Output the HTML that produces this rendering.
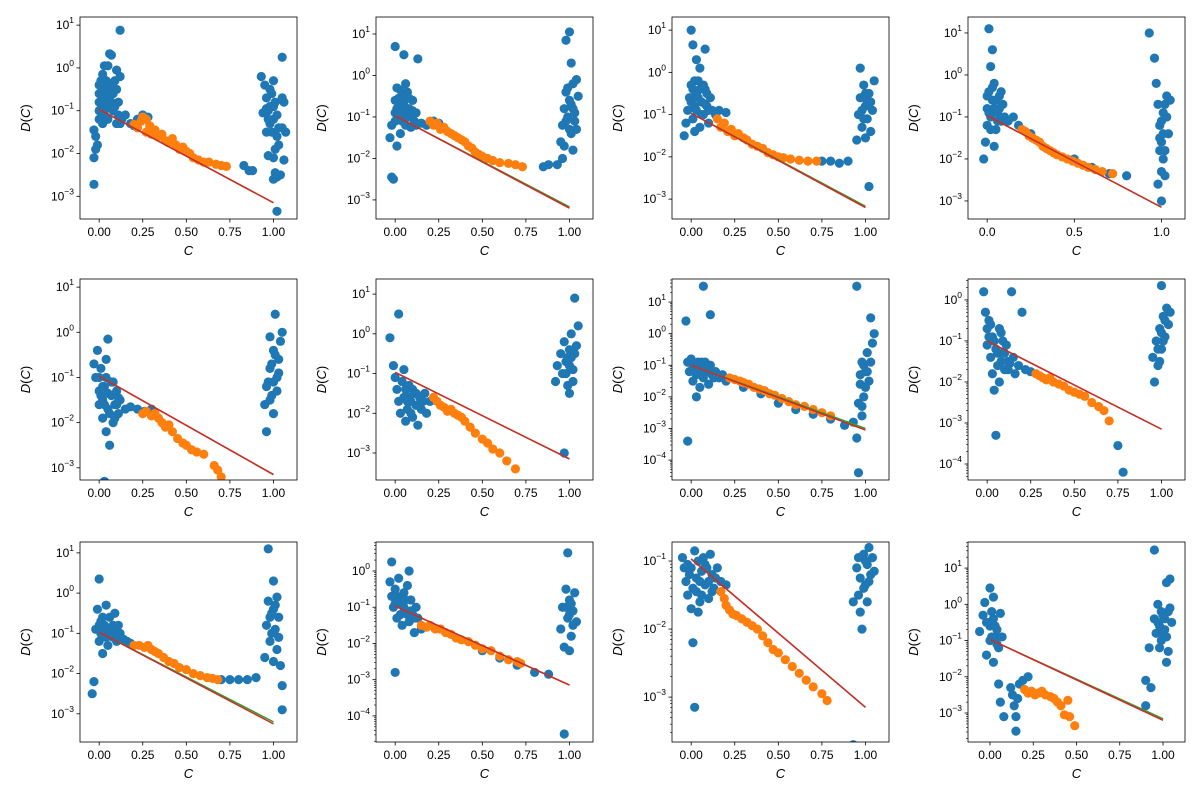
<!DOCTYPE html>
<html><head><meta charset="utf-8"><style>
html,body{margin:0;padding:0;background:#fff;}
svg{display:block;font-family:"Liberation Sans","DejaVu Sans",sans-serif;}
</style></head>
<body>
<svg id="fig" width="1200" height="800" viewBox="0 0 1200 800"></svg>
<script>
// ---- data (c, log10 D) per panel ----
const blue1=[[-0.03,-2.72],[-0.03,-2.1],[-0.02,-1.9],[-0.02,-1.6],[-0.01,-1.8],[-0.03,-1.45],[0,-1.2],[0,-0.8],[0.01,-0.6],[0,-0.4],[0.02,-0.15],[0.03,0.05],[0.05,0.05],[0.06,0.33],[0.07,0.3],[0.04,-0.5],[0.05,-0.7],[0.06,-0.9],[0.03,-1.1],[0.02,-1.3],[0.08,-0.6],[0.09,-0.3],[0.1,-0.05],[0.12,-0.2],[0.1,-0.5],[0.08,-1.0],[0.1,-1.3],[0.13,-1.2],[0.12,0.88],[0.01,-0.95],[0.04,-0.3],[0.07,-0.45],[0.11,-0.8],[0.15,-1.1],[0.18,-1.3],[0.2,-1.35],[0.22,-1.2],[0.25,-1.1],[0.28,-1.15],[0.0,-0.6],[0.01,-0.3],[0.02,-0.7],[0.03,-0.85],[0.04,-0.95],[0.05,-1.2],[0.06,-0.6],[0.07,-0.8],[0.08,-0.35],[0.09,-0.9],[0.11,-1.1],[0.12,-1.3],[0.03,-0.5],[0.05,-0.35],[0.0,-1.0],[0.93,-0.2],[0.95,-0.4],[0.96,-0.7],[0.97,-1.0],[0.98,-1.3],[0.96,-1.5],[0.99,-0.6],[1.0,-0.3],[1.01,-0.8],[1.0,-1.2],[1.02,-1.6],[1.03,-1.8],[0.97,-2.05],[1.0,-2.1],[1.01,-2.45],[1.02,-2.55],[1.0,-2.6],[1.04,-2.5],[1.06,-2.15],[1.05,-1.4],[1.06,-0.8],[1.07,-1.5],[1.05,-0.7],[1.05,0.25],[1.02,-3.35],[0.98,-0.5],[0.94,-1.05],[0.97,-1.2],[0.99,-1.5],[1.0,-0.9],[1.02,-1.1],[1.03,-1.4],[0.98,-0.9],[1.01,-1.9],[0.96,-0.95],[0.83,-2.28],[0.86,-2.4],[0.88,-2.4]];
const orange1=[[0.2,-1.32],[0.22,-1.4],[0.24,-1.25],[0.25,-1.15],[0.27,-1.2],[0.27,-1.5],[0.29,-1.35],[0.3,-1.55],[0.32,-1.45],[0.34,-1.6],[0.36,-1.55],[0.38,-1.7],[0.4,-1.75],[0.42,-1.65],[0.44,-1.8],[0.46,-1.9],[0.48,-1.85],[0.5,-1.95],[0.52,-2.0],[0.54,-2.1],[0.57,-2.15],[0.6,-2.2],[0.63,-2.2],[0.67,-2.25],[0.7,-2.28],[0.73,-2.3]];
const blue2=[[-0.02,-2.45],[-0.01,-2.5],[-0.03,-1.5],[-0.02,-1.2],[0,-0.9],[0,-0.6],[0.01,-0.3],[0,0.7],[0.05,0.5],[0.13,0.4],[0.02,-1.0],[0.03,-0.7],[0.04,-0.5],[0.05,-0.9],[0.06,-1.2],[0.07,-0.4],[0.08,-0.8],[0.09,-1.0],[0.1,-0.6],[0.11,-1.1],[0.12,-0.9],[0.03,-1.4],[0.06,-0.2],[0.01,-1.7],[0.12,-1.2],[0.15,-1.15],[0.18,-1.2],[0.22,-1.1],[0.25,-1.15],[0.0,-1.1],[0.01,-0.8],[0.02,-0.55],[0.04,-1.1],[0.05,-0.7],[0.07,-1.0],[0.08,-0.55],[0.09,-1.25],[0.1,-0.85],[0.03,-0.35],[0.85,-2.2],[0.88,-2.15],[0.93,-2.15],[0.96,-2.0],[0.95,-1.6],[0.96,-1.2],[0.97,-0.8],[0.98,-0.4],[0.99,-1.0],[1.0,-0.6],[1.01,-1.4],[1.02,-0.2],[1.03,-0.9],[1.04,-1.3],[1.05,-0.5],[1.0,1.05],[0.98,0.85],[1.01,0.3],[0.97,-1.7],[1.02,-1.8],[1.04,-0.1],[0.98,-1.1],[1.0,-1.3],[1.01,-0.7],[1.03,-1.1],[0.99,-0.3],[1.02,-0.8]];
const orange2=[[0.2,-1.1],[0.22,-1.2],[0.24,-1.15],[0.26,-1.3],[0.28,-1.25],[0.3,-1.35],[0.32,-1.4],[0.34,-1.45],[0.36,-1.5],[0.38,-1.55],[0.4,-1.6],[0.42,-1.7],[0.44,-1.75],[0.46,-1.85],[0.48,-1.9],[0.5,-1.95],[0.53,-2.0],[0.56,-2.05],[0.6,-2.1],[0.65,-2.12],[0.69,-2.15],[0.73,-2.2]];
const blue3=[[-0.04,-1.5],[-0.03,-1.2],[-0.02,-0.9],[-0.01,-0.6],[0,-0.3],[0,1.0],[0.01,0.65],[0.08,0.55],[0.01,-1.1],[0.02,-0.8],[0.03,-0.5],[0.04,-0.2],[0.05,0.1],[0.06,-0.7],[0.07,-1.0],[0.08,-0.4],[0.09,-0.8],[0.1,-1.2],[0.11,-0.6],[0.12,-0.9],[0.02,-1.4],[0.05,-1.3],[0.03,0.3],[0.14,-1.0],[0.16,-0.9],[0.2,-0.95],[0.0,-0.7],[0.01,-0.4],[0.02,-0.2],[0.03,-0.9],[0.04,-0.6],[0.05,-0.4],[0.06,-1.0],[0.07,-0.3],[0.08,-0.75],[0.09,-0.5],[0.1,-0.9],[0.75,-2.1],[0.8,-2.1],[0.85,-2.15],[0.9,-2.1],[0.95,-1.6],[0.96,-1.0],[0.97,-0.6],[0.98,-1.3],[0.99,-0.3],[1.0,-0.8],[1.01,-1.1],[1.02,-0.5],[1.03,-1.4],[1.04,-0.9],[1.05,-0.2],[0.97,0.1],[1.02,-2.7],[1.0,-1.55],[0.98,-0.9],[1.0,-0.5],[1.01,-0.7],[0.99,-1.1],[1.03,-0.7]];
const orange3=[[0.15,-1.1],[0.17,-1.3],[0.19,-1.2],[0.21,-1.4],[0.23,-1.35],[0.25,-1.5],[0.27,-1.45],[0.3,-1.55],[0.32,-1.6],[0.35,-1.7],[0.38,-1.75],[0.41,-1.8],[0.44,-1.9],[0.47,-1.95],[0.5,-2.0],[0.53,-2.02],[0.57,-2.05],[0.62,-2.08],[0.67,-2.1],[0.72,-2.1]];
const blue4=[[-0.02,-2.0],[-0.01,-1.6],[0,-1.2],[0,-0.8],[0.01,-0.4],[0.01,1.1],[0.03,0.6],[0.02,0.2],[0.02,-1.0],[0.03,-0.6],[0.04,-0.2],[0.05,-1.3],[0.06,-0.9],[0.07,-0.5],[0.08,-1.1],[0.09,-0.7],[0.1,-1.0],[0.04,-1.7],[0.12,-1.1],[0.15,-1.0],[0.18,-1.2],[0.25,-1.4],[0.0,-0.5],[0.01,-0.9],[0.02,-1.3],[0.03,-0.3],[0.04,-0.8],[0.05,-0.6],[0.06,-1.1],[0.07,-0.8],[0.08,-0.4],[0.5,-2.0],[0.6,-2.2],[0.7,-2.35],[0.8,-2.4],[0.93,1.0],[0.96,0.4],[0.97,-0.2],[0.98,-0.7],[0.99,-1.2],[1.0,-1.6],[1.01,-2.0],[1.02,-2.4],[1.0,-3.0],[1.03,-1.0],[1.04,-1.4],[1.03,-0.5],[1.05,-0.6],[0.98,-2.6],[1.02,-1.8],[1.01,-0.9],[0.99,-1.5],[1.0,-1.1],[1.01,-1.4],[1.02,-0.7],[1.0,-2.3],[0.99,-1.8]];
const orange4=[[0.2,-1.3],[0.22,-1.35],[0.24,-1.45],[0.26,-1.5],[0.28,-1.55],[0.3,-1.6],[0.32,-1.7],[0.34,-1.75],[0.36,-1.8],[0.38,-1.85],[0.4,-1.9],[0.43,-1.95],[0.46,-2.0],[0.49,-2.05],[0.52,-2.1],[0.55,-2.15],[0.58,-2.2],[0.62,-2.25],[0.66,-2.3],[0.72,-2.35]];
const blue5=[[-0.03,-0.7],[-0.02,-1.0],[-0.01,-0.4],[0,-1.3],[0,-1.6],[0.01,-0.8],[0.02,-1.9],[0.02,-1.5],[0.03,-3.3],[0.03,-1.2],[0.04,-2.2],[0.05,-0.15],[0.05,-1.7],[0.06,-2.5],[0.07,-1.4],[0.08,-1.1],[0.08,-2.0],[0.09,-1.6],[0.1,-1.3],[0.11,-1.8],[0.12,-1.5],[0.04,-0.6],[0.15,-1.7],[0.18,-1.65],[0.22,-1.7],[0.26,-1.75],[0.3,-1.7],[0.0,-1.0],[0.01,-1.4],[0.03,-1.6],[0.04,-1.0],[0.05,-1.35],[0.06,-1.8],[0.07,-1.1],[0.09,-1.9],[0.1,-1.6],[0.11,-1.45],[0.02,-1.2],[0.95,-1.6],[0.96,-2.2],[0.96,-1.2],[0.97,1.4],[0.98,-0.8],[0.99,-1.4],[1.0,-0.4],[1.01,0.4],[1.02,-1.0],[1.03,-0.6],[1.04,-0.2],[1.05,0.0],[1.0,-1.8],[1.02,-1.3],[0.98,-0.1],[0.97,-1.1],[0.99,-0.7],[1.0,-1.1],[1.01,-0.5],[1.03,-0.9],[0.98,-1.5]];
const orange5=[[0.25,-1.8],[0.27,-1.75],[0.3,-1.85],[0.32,-1.8],[0.34,-1.9],[0.36,-2.0],[0.38,-2.1],[0.4,-2.05],[0.42,-2.2],[0.45,-2.35],[0.48,-2.45],[0.5,-2.5],[0.53,-2.6],[0.56,-2.65],[0.6,-2.7],[0.66,-2.95],[0.68,-3.05],[0.7,-3.2]];
const blue6=[[-0.03,-0.1],[0.02,0.5],[-0.01,-0.8],[0,-1.1],[0.01,-1.4],[0.02,-1.7],[0.03,-2.0],[0.04,-1.2],[0.05,-1.6],[0.06,-2.2],[0.07,-1.9],[0.08,-1.3],[0.09,-1.7],[0.1,-2.1],[0.11,-1.5],[0.12,-1.8],[0.13,-2.3],[0.14,-1.6],[0.15,-1.9],[0.17,-1.5],[0.18,-2.0],[0.2,-1.7],[0.05,-0.9],[0.06,-1.4],[0.08,-1.6],[0.1,-1.4],[0.12,-1.5],[0.13,-1.8],[0.16,-1.7],[0.07,-1.7],[0.09,-2.0],[0.92,-1.2],[0.93,-0.8],[0.95,-0.5],[0.96,-1.0],[0.97,-3.0],[0.97,-0.2],[0.98,-0.7],[0.99,-1.3],[1.0,-0.4],[1.01,0.0],[1.02,-0.9],[1.03,-0.5],[1.03,0.9],[1.04,-0.3],[1.05,0.2],[1.0,-1.5],[0.98,-1.0],[1.0,-0.8],[1.01,-0.6],[1.02,-1.2],[0.99,-0.6]];
const orange6=[[0.22,-1.6],[0.24,-1.7],[0.26,-1.8],[0.28,-1.85],[0.3,-1.95],[0.32,-1.9],[0.34,-2.0],[0.36,-2.05],[0.38,-2.1],[0.4,-2.2],[0.43,-2.35],[0.46,-2.5],[0.5,-2.65],[0.53,-2.75],[0.56,-2.9],[0.6,-3.0],[0.64,-3.2],[0.69,-3.4]];
const blue7=[[-0.03,0.4],[-0.02,-3.4],[0.07,1.5],[0.11,0.6],[-0.02,-0.9],[-0.01,-1.2],[0,-0.8],[0.01,-1.5],[0.02,-1.0],[0.03,-1.3],[0.04,-0.9],[0.05,-1.7],[0.06,-1.1],[0.07,-1.4],[0.08,-0.9],[0.09,-1.2],[0.1,-1.6],[0.11,-1.0],[0.12,-1.3],[0.14,-1.2],[0.16,-1.4],[0.18,-1.3],[0.2,-1.5],[0.03,-2.0],[0.01,-1.1],[0.04,-1.2],[0.06,-0.9],[0.08,-1.15],[0.1,-1.05],[0.13,-1.4],[0.3,-1.7],[0.4,-1.9],[0.5,-2.2],[0.6,-2.4],[0.7,-2.55],[0.8,-2.7],[0.88,-2.9],[0.95,1.5],[1.03,0.5],[0.96,-4.4],[0.93,-2.8],[0.95,-3.3],[0.96,-2.2],[0.97,-1.6],[0.98,-0.9],[0.99,-2.0],[1.0,-1.2],[1.01,-0.6],[1.02,-1.5],[1.03,-0.9],[1.04,-0.3],[1.05,0.0],[0.98,-2.6],[0.97,-1.3],[0.99,-1.0],[1.0,-1.7],[1.01,-1.2],[0.98,-2.3]];
const orange7=[[0.22,-1.4],[0.25,-1.45],[0.28,-1.5],[0.3,-1.55],[0.33,-1.6],[0.36,-1.7],[0.39,-1.75],[0.42,-1.8],[0.45,-1.9],[0.48,-1.95],[0.52,-2.05],[0.56,-2.15],[0.6,-2.25],[0.65,-2.3],[0.7,-2.4],[0.75,-2.5],[0.8,-2.6]];
const blue8=[[-0.03,0.9],[-0.02,0.2],[-0.01,-0.3],[0,-0.7],[0,-1.1],[0.01,-0.5],[0.02,-1.4],[0.03,-1.8],[0.03,-0.9],[0.04,-2.2],[0.05,-3.3],[0.05,-1.2],[0.06,-1.6],[0.07,-2.0],[0.08,-0.8],[0.09,-1.3],[0.1,-1.7],[0.11,-1.1],[0.12,-1.5],[0.14,0.2],[0.15,-1.4],[0.16,-1.8],[0.18,-1.6],[0.2,-0.3],[0.22,-1.7],[0.25,-1.75],[0.01,-0.9],[0.02,-0.6],[0.04,-1.0],[0.06,-1.3],[0.07,-0.7],[0.08,-1.5],[0.09,-1.0],[0.1,-1.3],[0.12,-1.7],[0.13,-1.55],[0.75,-3.55],[0.78,-4.2],[0.95,-1.4],[0.96,-2.0],[0.97,-1.0],[0.98,-1.6],[0.99,-0.7],[1.0,-1.2],[1.01,-0.4],[1.02,-0.9],[1.03,-0.2],[1.04,-0.6],[1.0,0.35],[1.05,-0.3],[0.98,-1.2],[1.0,-0.8],[1.01,-1.0],[1.02,-0.5],[0.99,-1.5]];
const orange8=[[0.28,-1.8],[0.3,-1.85],[0.32,-1.9],[0.34,-1.95],[0.36,-1.9],[0.38,-2.0],[0.41,-2.05],[0.44,-2.1],[0.47,-2.2],[0.5,-2.25],[0.53,-2.3],[0.56,-2.35],[0.6,-2.5],[0.64,-2.6],[0.67,-2.7],[0.7,-2.95]];
const blue9=[[-0.04,-2.5],[-0.03,-2.2],[-0.02,-0.9],[-0.01,-0.4],[0,-1.2],[0,0.35],[0.01,-0.7],[0.02,-1.5],[0.03,-1.0],[0.04,-0.3],[0.05,-1.3],[0.06,-0.6],[0.07,1.4],[0.07,-0.9],[0.08,-1.1],[0.09,-0.5],[0.1,-1.2],[0.11,-0.8],[0.12,-1.0],[0.14,-1.15],[0.16,-1.2],[0.18,-1.25],[0.0,-0.8],[0.01,-1.0],[0.02,-0.6],[0.03,-0.8],[0.04,-1.1],[0.05,-0.9],[0.06,-1.0],[0.08,-0.8],[0.1,-0.9],[0.7,-2.15],[0.75,-2.15],[0.8,-2.15],[0.85,-2.15],[0.9,-2.1],[0.95,-1.6],[0.96,-0.8],[0.97,-0.2],[0.97,1.1],[0.98,-1.2],[0.99,-0.5],[1.0,0.3],[1.01,-0.9],[1.02,-1.4],[1.03,-0.6],[1.04,-1.8],[1.05,-2.3],[1.05,-2.9],[1.0,-1.7],[1.02,-0.1],[0.98,-0.6],[0.99,-1.0],[1.0,-0.4],[1.01,-0.3],[1.03,-1.1]];
const orange9=[[0.2,-1.3],[0.23,-1.3],[0.26,-1.35],[0.28,-1.3],[0.3,-1.4],[0.32,-1.45],[0.34,-1.5],[0.37,-1.6],[0.4,-1.7],[0.43,-1.75],[0.46,-1.85],[0.5,-1.9],[0.54,-2.0],[0.58,-2.05],[0.62,-2.1],[0.65,-2.12],[0.68,-2.15]];
const blue10=[[-0.02,0.25],[0,-2.8],[-0.03,-0.3],[-0.02,-0.7],[-0.01,-1.0],[0,-0.5],[0.01,-1.3],[0.02,-0.2],[0.03,-0.9],[0.04,-1.5],[0.05,-0.6],[0.06,-1.1],[0.07,-0.4],[0.08,-1.4],[0.09,-0.8],[0.1,-1.2],[0.11,-1.7],[0.12,-1.0],[0.13,-1.3],[0.15,-1.6],[0.08,0.0],[0.0,-0.9],[0.01,-0.7],[0.03,-1.2],[0.04,-0.7],[0.05,-1.0],[0.06,-0.8],[0.07,-1.2],[0.09,-1.1],[0.11,-1.3],[0.5,-2.2],[0.6,-2.4],[0.7,-2.6],[0.8,-2.8],[0.88,-2.85],[0.95,-1.6],[0.96,-1.0],[0.97,-4.5],[0.97,-2.1],[0.98,-0.5],[0.99,-1.3],[1.0,-0.8],[1.01,-1.8],[1.02,-1.1],[1.03,-0.6],[1.04,-1.4],[0.99,0.5],[1.0,-2.2],[0.98,-1.0],[1.0,-1.2],[1.01,-0.9],[1.02,-1.5]];
const orange10=[[0.15,-1.5],[0.18,-1.55],[0.2,-1.5],[0.23,-1.6],[0.26,-1.6],[0.29,-1.7],[0.32,-1.75],[0.35,-1.85],[0.38,-1.9],[0.42,-1.95],[0.46,-2.05],[0.5,-2.15],[0.55,-2.2],[0.6,-2.35],[0.65,-2.45],[0.7,-2.5],[0.72,-2.55]];
const blue11=[[-0.05,-0.95],[-0.04,-1.1],[-0.03,-1.3],[-0.02,-1.5],[-0.01,-1.2],[0,-1.7],[0.01,-1.4],[0.02,-3.15],[0.02,-0.85],[0.03,-1.25],[0.04,-1.0],[0.05,-1.6],[0.06,-1.15],[0.07,-0.95],[0.08,-1.35],[0.09,-1.1],[0.1,-1.3],[0.11,-0.9],[0.12,-1.2],[0.13,-1.4],[0.15,-1.1],[0.17,-1.3],[0.2,-1.35],[0.01,-2.2],[0.0,-1.1],[0.03,-1.45],[0.05,-1.3],[0.06,-1.5],[0.08,-1.05],[0.1,-1.55],[0.12,-1.45],[0.14,-1.25],[-0.02,-1.05],[0.04,-1.75],[0.93,-3.7],[0.93,-1.6],[0.95,-1.1],[0.96,-1.5],[0.97,-1.25],[0.98,-2.0],[0.99,-0.9],[1.0,-1.35],[1.01,-1.05],[1.02,-0.8],[1.03,-1.2],[1.04,-0.95],[1.05,-1.15],[0.97,-1.75],[0.99,-1.4],[1.0,-1.0],[1.01,-1.6],[1.02,-1.3],[0.96,-0.95]];
const orange11=[[0.17,-1.45],[0.19,-1.55],[0.2,-1.65],[0.22,-1.72],[0.24,-1.78],[0.26,-1.8],[0.29,-1.85],[0.32,-1.9],[0.35,-1.95],[0.38,-2.0],[0.41,-2.1],[0.44,-2.2],[0.47,-2.3],[0.5,-2.35],[0.54,-2.45],[0.58,-2.55],[0.62,-2.65],[0.66,-2.75],[0.7,-2.85],[0.75,-2.95],[0.78,-3.05]];
const blue12=[[-0.06,-0.75],[-0.04,-0.3],[-0.03,0.05],[-0.02,-1.4],[-0.01,-0.5],[0,0.45],[0,-1.0],[0.01,-0.2],[0.02,0.2],[0.02,-1.6],[0.03,-0.9],[0.04,-0.7],[0.05,-2.2],[0.05,-1.2],[0.06,-0.25],[0.06,-2.7],[0.07,-0.9],[0.08,-3.1],[0.0,-0.6],[0.01,-0.9],[0.02,-0.4],[0.03,-0.6],[0.04,-1.1],[-0.02,-0.5],[0.12,-2.3],[0.13,-2.5],[0.14,-2.8],[0.15,-3.1],[0.15,-3.5],[0.17,-2.2],[0.19,-2.1],[0.22,-2.0],[0.16,-2.6],[0.9,-2.1],[0.9,-2.8],[0.92,-1.2],[0.93,-2.3],[0.95,1.5],[0.95,-0.4],[0.96,-0.8],[0.97,0.0],[0.98,-0.6],[0.99,-1.0],[1.0,-0.3],[1.01,-0.7],[1.02,0.6],[1.02,-1.6],[1.03,-0.2],[1.04,0.7],[1.05,-0.5],[1.03,-1.3],[0.97,-0.5],[0.99,-0.2],[1.0,-0.8],[1.01,-0.4],[1.02,-0.9],[1.04,-0.1],[0.98,-1.2]];
const orange12=[[0.2,-2.35],[0.22,-2.45],[0.24,-2.4],[0.26,-2.5],[0.28,-2.45],[0.3,-2.4],[0.32,-2.5],[0.35,-2.55],[0.37,-2.6],[0.39,-2.7],[0.41,-2.8],[0.43,-3.05],[0.45,-2.65],[0.46,-3.1],[0.49,-3.35]];
const fitStart=[-0.97,-0.97,-0.97,-0.97,-0.97,-0.97,-1.0,-1.0,-0.97,-0.97,-0.97,-0.97];
const fitEnd=[-3.15,-3.2,-3.2,-3.15,-3.15,-3.15,-3.05,-3.15,-3.25,-3.15,-3.15,-3.2];
const fitEndGreen=[-3.15,-3.17,-3.17,-3.15,-3.15,-3.15,-3.0,-3.15,-3.2,-3.15,-3.15,-3.16];
const yLims=[[-3.53,1.19],[-3.46,1.41],[-3.47,1.31],[-3.43,1.38],[-3.27,1.18],[-3.68,1.38],[-4.63,1.73],[-4.39,0.51],[-3.7,1.27],[-4.72,0.8],[-3.66,-0.72],[-3.8,1.72]];
const blues=[blue1,blue2,blue3,blue4,blue5,blue6,blue7,blue8,blue9,blue10,blue11,blue12];
const oranges=[orange1,orange2,orange3,orange4,orange5,orange6,orange7,orange8,orange9,orange10,orange11,orange12];
const xTicksA=[0,0.25,0.5,0.75,1.0];
const xTickLabelsA=["0.00","0.25","0.50","0.75","1.00"];
const xTicksB=[0,0.5,1.0];
const xTickLabelsB=["0.0","0.5","1.0"];

const NS="http://www.w3.org/2000/svg";
const svg=document.getElementById('fig');
function mk(tag,attrs,parent){const e=document.createElementNS(NS,tag);for(const k in attrs)e.setAttribute(k,attrs[k]);(parent||svg).appendChild(e);return e;}
const lefts=[80,376,672,968], tops=[17,279,542], heights=[202,201,200], W=217;
for(let i=0;i<12;i++){
  const r=Math.floor(i/4), c=i%4;
  const L=lefts[c], T=tops[r], H=heights[r];
  const xmin=(i===11)?-0.127:-0.11, xmax=(i===11)?1.127:1.135;
  const [ymin,ymax]=yLims[i];
  const sx=v=>L+(v-xmin)/(xmax-xmin)*W;
  const sy=v=>T+H-(v-ymin)/(ymax-ymin)*H;
  const g=mk('g',{});
  
  
  const cp=mk('clipPath',{id:'cp'+i},g);
  mk('rect',{x:L,y:T,width:W,height:H},cp);
  const pts=mk('g',{'clip-path':'url(#cp'+i+')'},g);
  blues[i].forEach(p=>{const e=mk('circle',{cx:sx(p[0]),cy:sy(p[1]),r:4.6,fill:'#1f77b4'},pts);
    
    });
  oranges[i].forEach(p=>{const e=mk('circle',{cx:sx(p[0]),cy:sy(p[1]),r:4.6,fill:'#ff7f0e'},pts);
    
    });
  const gl=mk('line',{x1:sx(0),y1:sy(fitStart[i]),x2:sx(1),y2:sy(fitEndGreen[i]),stroke:'#2ca02c','stroke-width':1.5},pts);
  
  
  const rl=mk('line',{x1:sx(0),y1:sy(fitStart[i]),x2:sx(1),y2:sy(fitEnd[i]),stroke:'#d62728','stroke-width':1.5},pts);
  
  
  const fr=mk('rect',{x:L,y:T,width:W,height:H,fill:'none',stroke:'#000','stroke-width':0.8},g);
  
  
  const xt=(i===3)?xTicksB:xTicksA, xl=(i===3)?xTickLabelsB:xTickLabelsA;
  xt.forEach((v,k)=>{const x=sx(v);mk('line',{x1:x,y1:T+H,x2:x,y2:T+H+3.5,stroke:'#000','stroke-width':0.8},g);
    const t=mk('text',{x:x,y:T+H+17,'font-size':12,'text-anchor':'middle',fill:'#000'},g);t.textContent=xl[k];
    
    });
  for(let d=Math.ceil(ymin);d<=Math.floor(ymax);d++){
    const y=sy(d);mk('line',{x1:L-3.5,y1:y,x2:L,y2:y,stroke:'#000','stroke-width':0.8},g);
    const t=mk('text',{x:L-6,y:y+4,'font-size':12,'text-anchor':'end',fill:'#000'},g);
    
    
    t.appendChild(document.createTextNode('10'));
    const s=mk('tspan',{dy:-6,'font-size':8.5},t);s.textContent=String(d).replace('-','\u2212');
  }
  if(i===11||i===9||i===6||i===7||i===10){
    for(let d=Math.floor(ymin);d<=Math.ceil(ymax);d++)for(let m=2;m<10;m++){const v=d+Math.log10(m);if(v>ymin&&v<ymax){const y=sy(v);mk('line',{x1:L-2,y1:y,x2:L,y2:y,stroke:'#000','stroke-width':0.6},g);}}
  }
  const xlab=mk('text',{x:L+W/2,y:T+H+36,'font-size':13,'font-style':'italic','text-anchor':'middle'},g);xlab.textContent='C';
  
  
  const yx=L-50, yy=T+H/2;
  const ylab=mk('text',{x:yx,y:yy,'font-size':13,'text-anchor':'middle',transform:'rotate(-90 '+yx+' '+yy+')'},g);
  
  
  const a=mk('tspan',{'font-style':'italic'},ylab);a.textContent='D';
  const b=mk('tspan',{},ylab);b.textContent='(';
  const cc=mk('tspan',{'font-style':'italic'},ylab);cc.textContent='C';
  const dd=mk('tspan',{},ylab);dd.textContent=')';
}
</script>
</body></html>
